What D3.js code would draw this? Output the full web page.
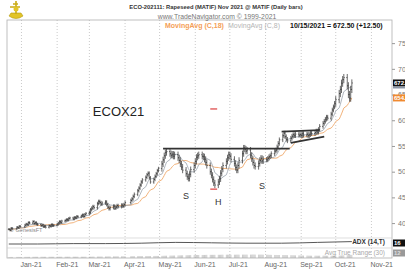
<!DOCTYPE html>
<html>
<head>
<meta charset="utf-8">
<script src="https://cdn.jsdelivr.net/npm/d3@7"></script>
<style>
  body { margin: 0; background: #fff; }
  svg { display: block; font-family: "Liberation Sans", Arial, sans-serif; }
</style>
</head>
<body>
<svg id="chart" width="405" height="273"></svg>
<script>
// ---- data ----
const monthLabels = ['Jan-21', 'Feb-21', 'Mar-21', 'Apr-21', 'May-21', 'Jun-21',
  'Jul-21', 'Aug-21', 'Sep-21', 'Oct-21', 'Nov-21'];
const priceTicks = [400, 450, 500, 550, 600, 650, 700, 750];
const holidays = ['2020-12-25', '2021-01-01', '2021-04-02', '2021-04-05'];

// daily closes, 21 Dec 2020 .. 15 Oct 2021
const closes = [
  388, 386, 390, 389, 392, 391, 394, 393,
  396, 398, 397, 401, 400, 403, 399, 401, 398, 397, 395, 396, 393, 394, 392, 395, 394, 397, 395, 396,
  398, 400, 403, 401, 404, 405, 407, 406, 409, 410, 408, 411, 410, 413, 412, 414, 416, 413, 417, 419,
  421, 426, 429, 432, 430, 438, 442, 440, 437, 439, 441, 436, 431, 428, 430, 433, 429, 431, 434, 432, 435, 433, 436,
  440, 444, 447, 452, 456, 463, 468, 474, 480, 484, 489, 494, 497, 488, 480, 485, 491, 496, 502, 506,
  515, 523, 531, 537, 539, 535, 532, 534, 530, 533, 527, 522, 515, 509, 503, 496, 490, 487, 495, 504, 512,
  520, 528, 531, 533, 530, 529, 524, 518, 512, 500, 493, 485, 478, 474, 480, 486, 497, 505, 512, 520, 527, 533,
  530, 524, 516, 508, 503, 512, 522, 535, 546, 544, 540, 542, 532, 525, 518, 512, 510, 516, 522, 526, 521, 524,
  523, 526, 529, 531, 535, 540, 542, 548, 555, 562, 570, 575, 568, 563, 560, 565, 569, 572, 570, 573, 571, 572,
  570, 574, 571, 573, 570, 572, 575, 574, 576, 579, 577, 582, 588, 594, 598, 602, 606, 604, 612, 620, 626, 633,
  640, 652, 660, 672, 679, 683, 667, 650, 643, 660, 672.5
];
// typical half bar range per month
const monthSpread = {
  '2020-12': 2, '2021-01': 2.5, '2021-02': 2.5, '2021-03': 3.5, '2021-04': 3.5, '2021-05': 6,
  '2021-06': 6, '2021-07': 6, '2021-08': 4.5, '2021-09': 4.5, '2021-10': 7
};

const adxDates = ['2020-12-21', '2021-01-15', '2021-02-15', '2021-03-15', '2021-04-15', '2021-05-15',
  '2021-06-15', '2021-07-15', '2021-08-15', '2021-09-15', '2021-10-15'];
const adxValues = [10, 10, 11, 11, 12, 14, 13, 12, 12, 14, 16];

// drawn pattern lines: [start date, start price, end date, end price]
const trendLines = [
  ['2021-05-04', 545, '2021-08-22', 545],
  ['2021-08-15', 578, '2021-09-17', 581],
  ['2021-08-23', 556, '2021-09-21', 568]
];
const redMarks = [
  ['2021-06-14', '2021-06-20', 622],
  ['2021-06-14', '2021-06-20', 466]
];
const patternLabels = [
  {text: 'S', date: '2021-05-24', price: 446},
  {text: 'H', date: '2021-06-21', price: 435},
  {text: 'S', date: '2021-07-29', price: 466}
];

// ---- setup ----
const parse = d3.timeParse('%Y-%m-%d');
const fmt = d3.timeFormat('%Y-%m-%d');
const fmtMonth = d3.timeFormat('%Y-%m');

const days = d3.timeDay.range(new Date(2020, 11, 21), new Date(2021, 9, 16))
  .filter(d => d.getDay() !== 0 && d.getDay() !== 6 && !holidays.includes(fmt(d)));

const bars = closes.map((c, i) => {
  const open = i > 0 ? closes[i - 1] : c;
  const s = monthSpread[fmtMonth(days[i])];
  return {date: days[i], open: open, close: c,
    high: Math.max(open, c) + s, low: Math.min(open, c) - s};
});

function movingAvg(arr, n) {
  return arr.map((v, i) => d3.mean(arr.slice(Math.max(0, i - n + 1), i + 1)));
}
const ma18 = movingAvg(closes, 18);
const ma8 = movingAvg(closes, 8);
const tr = bars.map((b, i) => {
  if (i === 0) return b.high - b.low;
  const pc = bars[i - 1].close;
  return Math.max(b.high - b.low, Math.abs(b.high - pc), Math.abs(b.low - pc));
});
const atr = movingAvg(tr, 30);

const svg = d3.select('#chart');
const plotLeft = 7, plotRight = 392, plotTop = 20, mainBottom = 238, adxBottom = 248, plotBottom = 258;

const x = d3.scaleTime()
  .domain([new Date(2020, 11, 19), new Date(2021, 10, 18)])
  .range([6.5, 391]);
const y = d3.scaleLinear().domain([371, 795]).range([mainBottom, plotTop]);
const yAdx = d3.scaleLinear().domain([0, 25]).range([adxBottom, mainBottom]);
const yAtr = d3.scaleLinear().domain([0, 50]).range([plotBottom, adxBottom + 1]);

// month grid lines
const months = d3.timeMonth.range(new Date(2021, 0, 1), new Date(2021, 11, 1));
svg.append('g')
  .selectAll('line')
  .data(months)
  .enter()
  .append('line')
  .attr('x1', d => x(d)).attr('x2', d => x(d))
  .attr('y1', plotTop).attr('y2', plotBottom)
  .attr('stroke', '#bdbdbd')
  .attr('stroke-width', 0.8)
  .attr('stroke-dasharray', '1,2');

// frames
svg.append('rect')
  .attr('x', plotLeft).attr('y', plotTop)
  .attr('width', plotRight - plotLeft).attr('height', plotBottom - plotTop)
  .attr('fill', 'none').attr('stroke', '#b0b0b0').attr('stroke-width', 0.8);
[mainBottom, adxBottom].forEach(v => {
  svg.append('line')
    .attr('x1', plotLeft).attr('x2', plotRight).attr('y1', v).attr('y2', v)
    .attr('stroke', '#d0d0d0').attr('stroke-width', 0.7);
});

// month labels
svg.append('g')
  .selectAll('text')
  .data(months)
  .enter()
  .append('text')
  .attr('x', d => x(d) - 1)
  .attr('y', 267)
  .attr('font-size', 7)
  .attr('fill', '#666')
  .text((d, i) => monthLabels[i]);

// price axis on the right
const axis = svg.append('g')
  .attr('transform', `translate(${plotRight},0)`)
  .call(d3.axisRight(y).tickValues(priceTicks).tickSize(3).tickPadding(3).tickFormat(d3.format('d')));
axis.select('.domain').remove();
axis.selectAll('line').attr('stroke', '#999');
axis.selectAll('text').attr('font-size', 7).attr('fill', '#777')
  .style('font-family', '"Liberation Sans", Arial, sans-serif');

// copyright text in the corner
svg.append('text')
  .attr('x', 10).attr('y', 232)
  .attr('font-size', 5.5).attr('fill', '#888')
  .text('© GenesisFT');

// moving averages
const line = d3.line().x((d, i) => x(days[i])).y(d => y(d));
svg.append('path').datum(ma18)
  .attr('d', line).attr('fill', 'none')
  .attr('stroke', '#f2b27a').attr('stroke-width', 1);
svg.append('path').datum(ma8)
  .attr('d', line).attr('fill', 'none')
  .attr('stroke', '#9aa3ad').attr('stroke-width', 0.8);

// daily OHLC bars
svg.append('g')
  .selectAll('path')
  .data(bars)
  .enter()
  .append('path')
  .attr('d', d => {
    const cx = x(d.date);
    return `M${cx},${y(d.high)}V${y(d.low)}M${cx - 1},${y(d.open)}H${cx}M${cx},${y(d.close)}H${cx + 1}`;
  })
  .attr('fill', 'none')
  .attr('stroke', '#3a3a3a')
  .attr('stroke-width', 0.75);

// pattern lines
svg.append('g')
  .selectAll('line')
  .data(trendLines)
  .enter()
  .append('line')
  .attr('x1', d => x(parse(d[0]))).attr('y1', d => y(d[1]))
  .attr('x2', d => x(parse(d[2]))).attr('y2', d => y(d[3]))
  .attr('stroke', '#333')
  .attr('stroke-width', 1.8);

svg.append('g')
  .selectAll('line')
  .data(redMarks)
  .enter()
  .append('line')
  .attr('x1', d => x(parse(d[0]))).attr('x2', d => x(parse(d[1])))
  .attr('y1', d => y(d[2])).attr('y2', d => y(d[2]))
  .attr('stroke', '#e05a5a')
  .attr('stroke-width', 1.4);

svg.append('g')
  .selectAll('text')
  .data(patternLabels)
  .enter()
  .append('text')
  .attr('x', d => x(parse(d.date)))
  .attr('y', d => y(d.price))
  .attr('text-anchor', 'middle')
  .attr('font-size', 9)
  .attr('fill', '#333')
  .text(d => d.text);

svg.append('text')
  .attr('x', x(parse('2021-03-04')))
  .attr('y', y(608))
  .attr('font-size', 13)
  .attr('fill', '#222')
  .text('ECOX21');

// ADX panel
svg.append('path')
  .datum(adxValues)
  .attr('d', d3.line().curve(d3.curveMonotoneX)
    .x((d, i) => x(parse(adxDates[i]))).y(d => yAdx(d)))
  .attr('fill', 'none').attr('stroke', '#444').attr('stroke-width', 0.9);
svg.append('text')
  .attr('x', 385).attr('y', 243.5).attr('text-anchor', 'end')
  .attr('font-size', 6.5).attr('font-weight', 'bold').attr('fill', '#333')
  .text('ADX (14,T)');

// ATR panel
svg.append('g')
  .selectAll('line')
  .data(atr)
  .enter()
  .append('line')
  .attr('x1', (d, i) => x(days[i])).attr('x2', (d, i) => x(days[i]))
  .attr('y1', plotBottom).attr('y2', d => yAtr(d))
  .attr('stroke', '#aaa').attr('stroke-width', 0.6);
svg.append('text')
  .attr('x', 385).attr('y', 254.5).attr('text-anchor', 'end')
  .attr('font-size', 6.5).attr('fill', '#aaa')
  .text('Avg True Range (30)');

// value boxes on the right edge
const lastClose = closes[closes.length - 1];
const boxes = [
  {v: lastClose, fill: '#111', text: '672.50', color: '#fff'},
  {v: ma8[ma8.length - 1], fill: '#8a95a5', text: '', color: '#fff', h: 2},
  {v: ma18[ma18.length - 1], fill: '#f08a30', text: '654.2', color: '#fff'}
];
let nextTop = 0;
boxes.forEach(b => {
  const h = b.h || 7;
  const t = Math.max(y(b.v) - h / 2, nextTop);
  nextTop = t + h;
  svg.append('rect').attr('x', 393).attr('y', t).attr('width', 14).attr('height', h).attr('fill', b.fill);
  if (b.text) {
    svg.append('text').attr('x', 394).attr('y', t + 5.7)
      .attr('font-size', 6).attr('font-weight', 'bold').attr('fill', b.color).text(b.text);
  }
});
svg.append('rect').attr('x', 393).attr('y', 239.5).attr('width', 14).attr('height', 7).attr('fill', '#111');
svg.append('text').attr('x', 394).attr('y', 245.3).attr('font-size', 6).attr('font-weight', 'bold')
  .attr('fill', '#fff').text('16');
svg.append('rect').attr('x', 393).attr('y', 249.5).attr('width', 14).attr('height', 7).attr('fill', '#999');
svg.append('text').attr('x', 394).attr('y', 255.3).attr('font-size', 6).attr('font-weight', 'bold')
  .attr('fill', '#ddd').text('12');

// title lines
svg.append('text')
  .attr('x', 216).attr('y', 9).attr('text-anchor', 'middle')
  .attr('font-size', 5.8).attr('font-weight', 'bold').attr('fill', '#333')
  .text('ECO-202111:  Rapeseed (MATIF) Nov 2021 @ MATIF  (Daily bars)');
svg.append('text')
  .attr('x', 217).attr('y', 18.5).attr('text-anchor', 'middle')
  .attr('font-size', 6.8).attr('fill', '#777')
  .text('www.TradeNavigator.com © 1999-2021');
const legend = svg.append('text').attr('y', 27.5).attr('font-size', 7).attr('font-weight', 'bold');
legend.append('tspan').attr('x', 165).attr('fill', '#f4a057').text('MovingAvg (C,18)');
legend.append('tspan').attr('x', 228).attr('fill', '#b5b5b5').attr('font-weight', 'normal').text('MovingAvg (C,8)');
legend.append('tspan').attr('x', 290).attr('fill', '#111').text('10/15/2021 = 672.50 (+12.50)');

// logo in the corner
const logo = svg.append('g').attr('transform', 'translate(16,10)');
logo.append('path')
  .attr('d', 'M-7,6 Q0,11 7,6 L5,3 L-5,3 Z')
  .attr('fill', '#e2c428').attr('stroke', '#b39a10').attr('stroke-width', 0.6);
logo.append('path')
  .attr('d', 'M0,-9 V4 M-6,-3 H4 M-3,-6 H2')
  .attr('stroke', '#c9ab16').attr('stroke-width', 1.6).attr('fill', 'none');
logo.append('circle').attr('cx', 0).attr('cy', -1).attr('r', 2.5).attr('fill', '#e2c428');
</script>
</body>
</html>
